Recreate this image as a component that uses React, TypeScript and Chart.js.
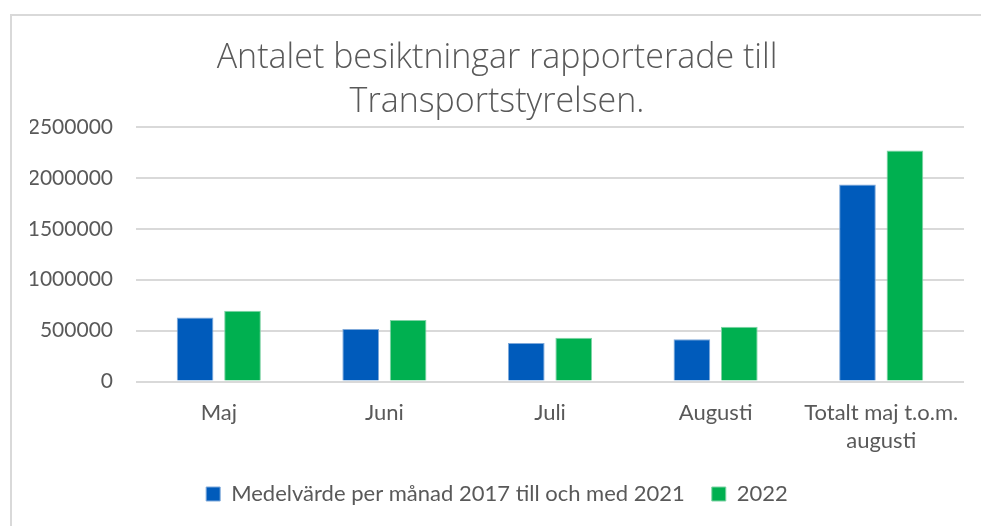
import React, { useEffect, useRef } from "react";
import { Chart, registerables } from "chart.js";

Chart.register(...registerables);

const titleLines = ["Antalet besiktningar rapporterade till", "Transportstyrelsen."];
const categories: (string | string[])[] = ["Maj", "Juni", "Juli", "Augusti", ["Totalt maj t.o.m.", "augusti"]];
const seriesNames = ["Medelvärde per månad 2017 till och med 2021", "2022"];
const avgValues = [629000, 515000, 377000, 416000, 1935000];
const values2022 = [695000, 604000, 429000, 537000, 2268000];
const yMax = 2500000;
const yStep = 500000;

const FONT = "Lato, 'Open Sans', sans-serif";
const TITLE_FONT = "'Open Sans', Lato, sans-serif";
const TEXT = "#595959";

export default function App() {
  const ref = useRef<HTMLCanvasElement | null>(null);

  useEffect(() => {
    const canvas = ref.current;
    if (!canvas) return;
    const chart = new Chart(canvas, {
      type: "bar",
      data: {
        labels: categories as any,
        datasets: [
          {
            label: seriesNames[0],
            data: avgValues,
            backgroundColor: "#005BBB",
            borderColor: "#7FA9DA",
            borderWidth: 1,
            categoryPercentage: 0.573,
            barPercentage: 0.773,
          },
          {
            label: seriesNames[1],
            data: values2022,
            backgroundColor: "#00B050",
            borderColor: "#7FD3A5",
            borderWidth: 1,
            categoryPercentage: 0.573,
            barPercentage: 0.773,
          },
        ],
      },
      options: {
        responsive: false,
        animation: false,
        layout: { padding: { left: 30, right: 17, top: 36, bottom: 11 } },
        plugins: {
          title: {
            display: true,
            text: titleLines,
            color: TEXT,
            font: { family: TITLE_FONT, size: 34, weight: 300, lineHeight: 44.5 / 34 },
            padding: { top: 0, bottom: 2 },
          },
          legend: {
            position: "bottom",
            labels: {
              color: TEXT,
              font: { family: FONT, size: 22 },
              boxWidth: 14,
              boxHeight: 14,
              padding: 27,
              useBorderRadius: false,
            },
          },
          tooltip: { enabled: false },
        },
        scales: {
          x: {
            grid: { display: false, drawTicks: false },
            border: { display: false },
            afterFit: (s: any) => {
              s.height = 74.5;
            },
            ticks: {
              color: TEXT,
              font: { family: FONT, size: 22, lineHeight: 1.3 },
              padding: 17,
              maxRotation: 0,
              autoSkip: false,
            },
          },
          y: {
            min: 0,
            max: yMax,
            afterFit: (s: any) => {
              s.width = 106;
            },
            grid: { color: "#D9D9D9", lineWidth: 2, drawTicks: false },
            border: { display: false },
            ticks: {
              stepSize: yStep,
              color: TEXT,
              font: { family: FONT, size: 21 },
              padding: 23,
              callback: (v: any) => String(v),
            },
          },
        },
      },
    });
    return () => chart.destroy();
  }, []);

  return (
    <div style={{ position: "fixed", left: 0, top: 0, width: 981, height: 526, overflow: "hidden", background: "#fff" }}>
      <div
        style={{
          position: "absolute",
          left: 10,
          top: 14,
          width: 1100,
          height: 700,
          border: "2px solid #D9D9D9",
          boxSizing: "border-box",
        }}
      />
      <canvas ref={ref} width={981} height={526} style={{ position: "absolute", left: 0, top: 0 }} />
    </div>
  );
}
